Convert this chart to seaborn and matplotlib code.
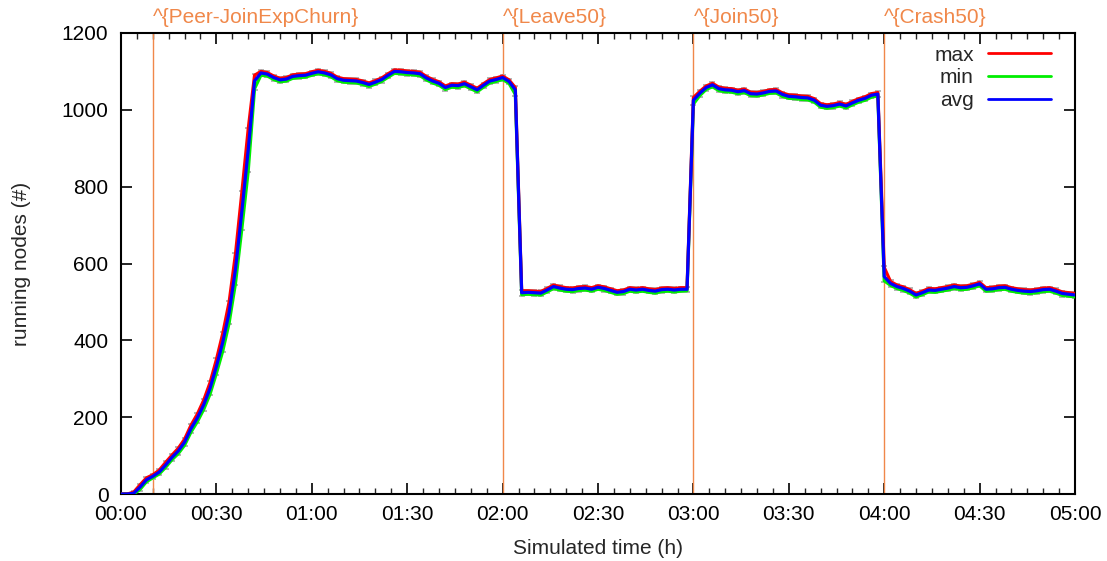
import numpy as np
import pandas as pd
import matplotlib
matplotlib.use("Agg")
import matplotlib.pyplot as plt
import matplotlib.ticker as mticker
from matplotlib.lines import Line2D
import seaborn as sns

# sampling grid in minutes (one sample every 2 minutes, 5 hours)
minutes = list(range(0, 301, 2))

avg_nodes = [
    0, 0, 2, 18, 37, 46, 57, 75, 95, 112,
    135, 170, 198, 232, 275, 332, 395, 472, 585, 735,
    895, 1075, 1096, 1093, 1084, 1078, 1080, 1087, 1089, 1090,
    1095, 1099, 1096, 1091, 1081, 1077, 1076, 1075, 1071, 1066,
    1072, 1079, 1090, 1100, 1099, 1097, 1096, 1094, 1083, 1075,
    1069, 1058, 1064, 1063, 1068, 1060, 1052, 1064, 1075, 1079,
    1084, 1074, 1052, 524, 525, 524, 523, 531, 540, 536,
    533, 532, 535, 536, 533, 538, 535, 530, 525, 527,
    533, 531, 533, 530, 528, 532, 533, 531, 533, 533,
    1025, 1043, 1058, 1065, 1055, 1052, 1051, 1047, 1050, 1042,
    1041, 1044, 1048, 1049, 1040, 1035, 1034, 1032, 1031, 1025,
    1012, 1009, 1011, 1015, 1010, 1018, 1025, 1030, 1038, 1041,
    566, 548, 540, 535, 528, 518, 524, 531, 530, 533,
    536, 540, 537, 538, 542, 547, 533, 534, 537, 538,
    533, 530, 528, 527, 529, 532, 533, 528, 522, 520,
    518,
]

max_nodes = [
    0, 0, 5, 24, 42, 50, 62, 82, 101, 119,
    143, 179, 208, 244, 290, 350, 418, 500, 625, 785,
    950, 1090, 1100, 1097, 1088, 1082, 1084, 1091, 1093, 1094,
    1099, 1103, 1100, 1095, 1085, 1081, 1080, 1079, 1075, 1070,
    1076, 1083, 1094, 1104, 1103, 1101, 1100, 1098, 1087, 1079,
    1073, 1062, 1068, 1067, 1072, 1064, 1056, 1068, 1079, 1083,
    1088, 1078, 1058, 529, 529, 528, 527, 535, 544, 540,
    537, 536, 539, 540, 537, 542, 539, 534, 529, 531,
    537, 535, 537, 534, 532, 536, 537, 535, 537, 537,
    1032, 1048, 1062, 1069, 1059, 1056, 1055, 1051, 1054, 1046,
    1045, 1048, 1052, 1053, 1044, 1039, 1038, 1036, 1035, 1029,
    1016, 1013, 1015, 1019, 1014, 1022, 1029, 1034, 1042, 1045,
    590, 553, 544, 539, 532, 522, 528, 535, 534, 537,
    540, 544, 541, 542, 546, 551, 537, 538, 541, 542,
    537, 534, 532, 531, 533, 536, 537, 532, 526, 524,
    522,
]

min_nodes = [
    0, 0, 0, 12, 32, 42, 52, 69, 89, 105,
    127, 161, 188, 220, 260, 314, 372, 445, 548, 690,
    840, 1055, 1090, 1088, 1079, 1073, 1075, 1082, 1084, 1085,
    1090, 1094, 1091, 1086, 1076, 1072, 1071, 1070, 1066, 1061,
    1067, 1074, 1085, 1095, 1094, 1092, 1091, 1089, 1078, 1070,
    1064, 1053, 1059, 1058, 1063, 1055, 1047, 1059, 1070, 1074,
    1079, 1069, 1040, 519, 520, 519, 518, 526, 535, 531,
    528, 527, 530, 531, 528, 533, 530, 525, 520, 522,
    528, 526, 528, 525, 523, 527, 528, 526, 528, 529,
    1015, 1037, 1053, 1060, 1050, 1047, 1046, 1042, 1045, 1037,
    1036, 1039, 1043, 1044, 1035, 1030, 1029, 1027, 1026, 1020,
    1007, 1004, 1006, 1010, 1005, 1013, 1020, 1025, 1033, 1036,
    555, 543, 535, 530, 523, 513, 519, 526, 525, 528,
    531, 535, 532, 533, 537, 542, 528, 529, 532, 533,
    528, 525, 523, 522, 524, 527, 528, 523, 517, 515,
    513,
]

event_minutes = [10, 120, 180, 240]
event_labels = ["^{Peer-JoinExpChurn}", "^{Leave50}", "^{Join50}", "^{Crash50}"]

series_names = ["max", "min", "avg"]
series_colors = {"max": "#ff0000", "min": "#00ee00", "avg": "#0000ff"}
event_color = "#f0884a"

assert len(minutes) == len(avg_nodes) == len(max_nodes) == len(min_nodes)

df = pd.DataFrame({
    "minute": minutes * 3,
    "nodes": min_nodes + max_nodes + avg_nodes,
    "series": ["min"] * len(minutes) + ["max"] * len(minutes) + ["avg"] * len(minutes),
})

sns.set_style("ticks")
plt.rcParams["font.family"] = ["Liberation Sans", "DejaVu Sans"]
FS = 15

fig = plt.figure(figsize=(11.07, 5.61), dpi=100)
ax = fig.add_axes([0.1093, 0.1194, 0.8618, 0.8218])

# event markers
for t in event_minutes:
    ax.axvline(t, color=event_color, lw=1.0, zorder=1)

# spread between min and max as grey error bars
avg_arr = np.array(avg_nodes)
err = [avg_arr - np.array(min_nodes) + 3, np.array(max_nodes) - avg_arr + 3]
ax.errorbar(minutes, avg_nodes, yerr=err, fmt="none", ecolor="#b4b4b4",
            elinewidth=0.8, capsize=2.4, capthick=1.4, zorder=2)

sns.lineplot(data=df, x="minute", y="nodes", hue="series",
             hue_order=["min", "max", "avg"], palette=series_colors,
             linewidth=2.3, ax=ax, legend=False, zorder=3)

ax.set_xlim(0, 300)
ax.set_ylim(0, 1200)
ax.xaxis.set_major_locator(mticker.MultipleLocator(30))
ax.xaxis.set_minor_locator(mticker.MultipleLocator(5))
ax.yaxis.set_major_locator(mticker.MultipleLocator(200))
ax.xaxis.set_major_formatter(
    mticker.FuncFormatter(lambda v, pos: f"{int(v) // 60:02d}:{int(v) % 60:02d}"))

ax.tick_params(axis="both", which="major", direction="in", length=8, width=1.2,
               top=True, right=True, labelsize=FS, colors="black")
ax.tick_params(axis="x", which="major", pad=8)
ax.tick_params(axis="y", which="major", pad=9)
ax.tick_params(axis="x", which="minor", direction="in", length=4.5, width=1.0,
               top=True, bottom=True)
for sp in ax.spines.values():
    sp.set_linewidth(1.5)
    sp.set_color("black")

ax.set_xlabel("Simulated time (h)", fontsize=FS, labelpad=11)
ax.set_ylabel("running nodes (#)", fontsize=FS, labelpad=22)

# event labels above the plot
for t, lab in zip(event_minutes, event_labels):
    ax.annotate(lab, xy=(t, 1.0), xycoords=("data", "axes fraction"),
                xytext=(0, 4), textcoords="offset points",
                ha="left", va="bottom", color=event_color, fontsize=FS)

handles = [Line2D([0], [0], color=series_colors[n], lw=2.0) for n in series_names]
ax.legend(handles, series_names, loc="upper right", frameon=False,
          markerfirst=False, fontsize=FS, handlelength=3.0, handletextpad=0.7,
          labelspacing=0.17, borderaxespad=0.3, bbox_to_anchor=(0.99, 1.004))

fig.savefig("out.png", dpi=100)
